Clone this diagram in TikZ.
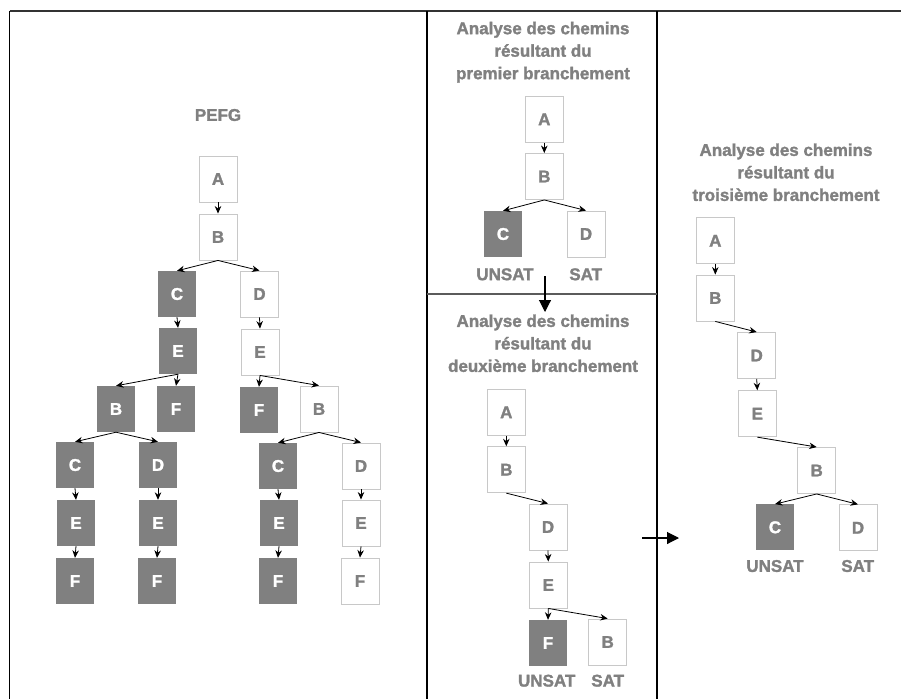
\documentclass[tikz,border=0pt]{standalone}
\usepackage{fontspec}
\setmainfont[BoldFeatures={FakeBold=1.6}]{Liberation Sans}
\usetikzlibrary{arrows.meta}
\definecolor{txtgray}{RGB}{128,128,128}
\definecolor{boxline}{RGB}{200,200,200}
\definecolor{boxfill}{RGB}{128,128,128}
\definecolor{framecol}{RGB}{50,50,50}
\begin{document}
\begin{tikzpicture}[x=1pt,y=-1pt,
  lbl/.style={font=\fontsize{17}{22.5}\selectfont\bfseries, text=txtgray, inner sep=0pt},
  title/.style={lbl, align=center},
  wbox/.style={lbl, draw=boxline, line width=0.9pt, minimum width=38pt, minimum height=46pt},
  dbox/.style={lbl, fill=boxfill, text=white, minimum width=38pt, minimum height=46pt},
  arr/.style={-{Stealth[length=7.5pt,width=6.5pt]}, line width=0.8pt, black},
  bigarr/.style={-{Triangle[length=12pt,width=12pt]}, line width=1.1pt, black},
  frame/.style={line width=1.3pt, black}]
\useasboundingbox (0,0) rectangle (901,699);

% panel frame
\draw[line width=2pt, framecol] (9.5,11) -- (901,11);
\draw[frame] (9.5,11) -- (9.5,699);
\draw[frame] (427,11) -- (427,699);
\draw[frame] (657,11) -- (657,699);
\draw[line width=1.1pt, framecol!80] (427,294) -- (657,294);

% ---------------- PEFG tree ----------------
\node[lbl] (ptitle) at (218,115) {PEFG};
\node[wbox] (pA)  at (218,179) {A};
\node[wbox] (pB)  at (218,237) {B};
\node[dbox] (pC)  at (177,294) {C};
\node[wbox] (pD)  at (259.5,294) {D};
\node[dbox] (pE1) at (178,351) {E};
\node[wbox] (pE2) at (260,352) {E};
\node[dbox] (pB1) at (116,409) {B};
\node[dbox] (pF1) at (176,409) {F};
\node[dbox] (pF2) at (259,410) {F};
\node[wbox] (pB2) at (319,409) {B};
\node[dbox] (pC1) at (75,465) {C};
\node[dbox] (pD1) at (158,465) {D};
\node[dbox] (pC2) at (278,466) {C};
\node[wbox] (pD2) at (361,466) {D};
\node[dbox] (pE3) at (76,523) {E};
\node[dbox] (pE4) at (158,523) {E};
\node[dbox] (pE5) at (279,523) {E};
\node[wbox] (pE6) at (361,523) {E};
\node[dbox] (pF3) at (75,581) {F};
\node[dbox] (pF4) at (157,581) {F};
\node[dbox] (pF5) at (278,581) {F};
\node[wbox] (pF6) at (360,581) {F};

\draw[arr] (pA.south) -- (pB.north);
\draw[arr] (pB.south) -- (pC.north);
\draw[arr] (pB.south) -- (pD.north);
\draw[arr] (pC.south) -- (pE1.north);
\draw[arr] (pD.south) -- (pE2.north);
\draw[arr] (pE1.south) -- (pB1.north);
\draw[arr] (pE1.south) -- (pF1.north);
\draw[arr] (pE2.south) -- (pF2.north);
\draw[arr] (pE2.south) -- (pB2.north);
\draw[arr] (pB1.south) -- (pC1.north);
\draw[arr] (pB1.south) -- (pD1.north);
\draw[arr] (pB2.south) -- (pC2.north);
\draw[arr] (pB2.south) -- (pD2.north);
\draw[arr] (pC1.south) -- (pE3.north);
\draw[arr] (pD1.south) -- (pE4.north);
\draw[arr] (pC2.south) -- (pE5.north);
\draw[arr] (pD2.south) -- (pE6.north);
\draw[arr] (pE3.south) -- (pF3.north);
\draw[arr] (pE4.south) -- (pF4.north);
\draw[arr] (pE5.south) -- (pF5.north);
\draw[arr] (pE6.south) -- (pF6.north);

% ---------------- first branching ----------------
\node[title] (qtitle) at (543,52.3) {Analyse des chemins\\résultant du\\premier branchement};
\node[wbox] (qA) at (544.3,119.3) {A};
\node[wbox] (qB) at (544.3,176.5) {B};
\node[dbox] (qC) at (503,234) {C};
\node[wbox] (qD) at (586,234) {D};
\node[lbl] (qU) at (505,274.3) {UNSAT};
\node[lbl] (qS) at (585.7,274.3) {SAT};
\draw[arr] (qA.south) -- (qB.north);
\draw[arr] (qB.south) -- (qC.north);
\draw[arr] (qB.south) -- (qD.north);

% ---------------- second branching ----------------
\node[title] (rtitle) at (543,343.3) {Analyse des chemins\\résultant du\\deuxième branchement};
\node[wbox] (rA) at (506.3,412.3) {A};
\node[wbox] (rB) at (506.3,469.7) {B};
\node[wbox] (rD) at (548,527) {D};
\node[wbox] (rE) at (548.3,585) {E};
\node[dbox] (rF) at (548,643) {F};
\node[wbox] (rB2) at (607.7,642) {B};
\node[lbl] (rU) at (546.7,680.7) {UNSAT};
\node[lbl] (rS) at (607.7,680.7) {SAT};
\draw[arr] (rA.south) -- (rB.north);
\draw[arr] (rB.south) -- (rD.north);
\draw[arr] (rD.south) -- (rE.north);
\draw[arr] (rE.south) -- (rF.north);
\draw[arr] (rE.south) -- (rB2.north);

% ---------------- third branching ----------------
\node[title] (stitle) at (786,172.3) {Analyse des chemins\\résultant du\\troisième branchement};
\node[wbox] (sA) at (715.3,240.8) {A};
\node[wbox] (sB) at (715.3,298) {B};
\node[wbox] (sD) at (756.7,355.5) {D};
\node[wbox] (sE) at (757.3,413.7) {E};
\node[wbox] (sB2) at (816.7,470.5) {B};
\node[dbox] (sC) at (775,527.3) {C};
\node[wbox] (sD2) at (858,527.8) {D};
\node[lbl] (sU) at (775,566) {UNSAT};
\node[lbl] (sS) at (857.7,566) {SAT};
\draw[arr] (sA.south) -- (sB.north);
\draw[arr] (sB.south) -- (sD.north);
\draw[arr] (sD.south) -- (sE.north);
\draw[arr] (sE.south) -- (sB2.north);
\draw[arr] (sB2.south) -- (sC.north);
\draw[arr] (sB2.south) -- (sD2.north);

% transitions between stages
\coordinate (down0) at (545,276);
\coordinate (down1) at (545,312);
\coordinate (right0) at (642,538);
\coordinate (right1) at (679,538);
\draw[bigarr] (down0) -- (down1);
\draw[bigarr] (right0) -- (right1);
\end{tikzpicture}
\end{document}
